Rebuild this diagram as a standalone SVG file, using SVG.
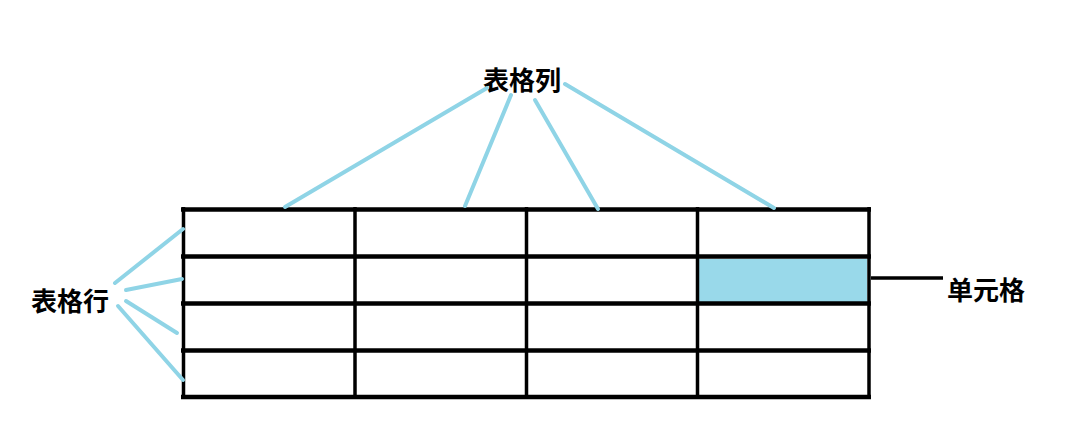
<svg xmlns="http://www.w3.org/2000/svg" width="1082" height="428" viewBox="0 0 1082 428">
<style>
.lbl{font-family:"Noto Sans CJK SC","Noto Sans",sans-serif;font-size:26px;font-weight:700;fill:#000}
.blue{stroke:#8fd4e6;stroke-width:4;stroke-linecap:round;fill:none}
.h{stroke:#000;stroke-width:4.5}
.v{stroke:#000;stroke-width:3.5}
</style>
<rect width="1082" height="428" fill="#fff"/>
<g id="table">
<rect x="699" y="259" width="168" height="43" fill="#99d9ea"/>
<line class="h" x1="181" y1="209.5" x2="871" y2="209.5"/>
<line class="h" x1="181" y1="256.5" x2="871" y2="256.5"/>
<line class="h" x1="181" y1="303.5" x2="871" y2="303.5"/>
<line class="h" x1="181" y1="350.5" x2="871" y2="350.5"/>
<line class="h" x1="181" y1="397" x2="871" y2="397"/>
<line class="v" x1="183.5" y1="207" x2="183.5" y2="399"/>
<line class="v" x1="355" y1="207" x2="355" y2="399"/>
<line class="v" x1="526.5" y1="207" x2="526.5" y2="399"/>
<line class="v" x1="697.5" y1="207" x2="697.5" y2="399"/>
<line class="v" x1="869" y1="207" x2="869" y2="399"/>
</g>
<g id="col-label"><text class="lbl" x="522" y="90" text-anchor="middle">表格列</text></g>
<g id="row-label"><text class="lbl" x="70" y="311" text-anchor="middle">表格行</text></g>
<g id="cell-label"><text class="lbl" x="986" y="300" text-anchor="middle">单元格</text></g>
<g id="connectors">
<line class="blue" x1="487" y1="88" x2="285" y2="207"/>
<line class="blue" x1="511" y1="95" x2="465" y2="206"/>
<line class="blue" x1="535" y1="100" x2="598" y2="209"/>
<line class="blue" x1="565" y1="84" x2="774" y2="208"/>
<line class="blue" x1="115" y1="283" x2="183" y2="229"/>
<line class="blue" x1="126" y1="290" x2="182" y2="279"/>
<line class="blue" x1="126" y1="301" x2="177" y2="333"/>
<line class="blue" x1="118" y1="306" x2="183" y2="380"/>
<line x1="871" y1="278" x2="943" y2="278" stroke="#000" stroke-width="3.5"/>
</g>
</svg>
